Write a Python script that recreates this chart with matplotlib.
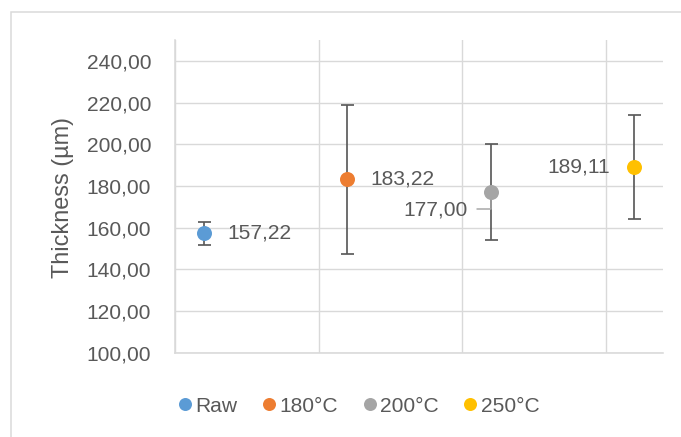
import matplotlib
matplotlib.use('Agg')
import matplotlib.pyplot as plt
from matplotlib.lines import Line2D
from matplotlib.patches import Rectangle

# data
series = ['Raw', '180°C', '200°C', '250°C']
xpos = [1, 2, 3, 4]
thickness = [157.22, 183.22, 177.00, 189.11]
err = [5.6, 35.8, 23.0, 25.0]
colors = ['#5B9BD5', '#ED7D31', '#A5A5A5', '#FFC000']
# label offsets in points (dpi 72 -> pixels)
lab_off = [(24, 0), (23, 0), (-23, -18), (-24, 0)]
lab_ha = ['left', 'left', 'right', 'right']

plt.rcParams['font.family'] = ['Liberation Sans', 'DejaVu Sans']
txt = '#595959'
grid = '#d9d9d9'
fs = 21

fig = plt.figure(figsize=(681/72, 437/72), dpi=72)
fig.patches.append(Rectangle((11/681, -0.1), 1.2, 1 - 12/437 + 0.1, transform=fig.transFigure,
                             fill=False, edgecolor=grid, lw=1.5))
ax = fig.add_axes([175/681, (437-352.7)/437, (663-175)/681, (352.7-40)/437])

for i in range(len(series)):
    ax.errorbar(xpos[i], thickness[i], yerr=err[i], fmt='none', ecolor='#595959',
                elinewidth=1.7, capsize=6.5, capthick=1.7, zorder=3)
    ax.plot(xpos[i], thickness[i], 'o', ms=15, color=colors[i], mec='none', zorder=4)
    lab = ('%.2f' % thickness[i]).replace('.', ',')
    ax.annotate(lab, (xpos[i], thickness[i]), xytext=lab_off[i], textcoords='offset points',
                ha=lab_ha[i], va='center', fontsize=fs, color=txt, zorder=5)

# leader line for the 200°C label
ax.annotate('', (xpos[2], thickness[2]), xytext=(-14, -17), textcoords='offset points',
            arrowprops=dict(arrowstyle='-', color='#a6a6a6', lw=1.5, shrinkA=0, shrinkB=8,
                            connectionstyle='angle,angleA=0,angleB=90,rad=0'))

ax.set_xlim(0.8, 4.2)
ax.set_ylim(100, 250)
ax.set_xticks([0.8, 1.8, 2.8, 3.8])
ax.set_yticks(range(100, 241, 20))
ax.set_yticklabels(['%d,00' % v for v in range(100, 241, 20)])
ax.tick_params(axis='x', length=0, labelbottom=False)
ax.tick_params(axis='y', length=0, pad=24, labelsize=fs, labelcolor=txt)
ax.grid(True, color=grid, lw=1.4)
ax.set_axisbelow(True)
for s in ['top', 'right']:
    ax.spines[s].set_visible(False)
for s in ['left', 'bottom']:
    ax.spines[s].set_color(grid)
    ax.spines[s].set_linewidth(1.6)

fig.text(63/681, 1 - 197/437, 'Thickness (µm)', rotation=90, ha='center', va='center',
         fontsize=23.5, color=txt)

handles = [Line2D([], [], marker='o', ls='none', ms=13, color=c, mec='none') for c in colors]
fig.legend(handles, series, loc='center', bbox_to_anchor=(357/681, 1 - 406/437), ncol=4,
           frameon=False, fontsize=fs, labelcolor=txt, handletextpad=0.0, columnspacing=1.0,
           handlelength=1.0)

fig.savefig('out.png', dpi=72)
